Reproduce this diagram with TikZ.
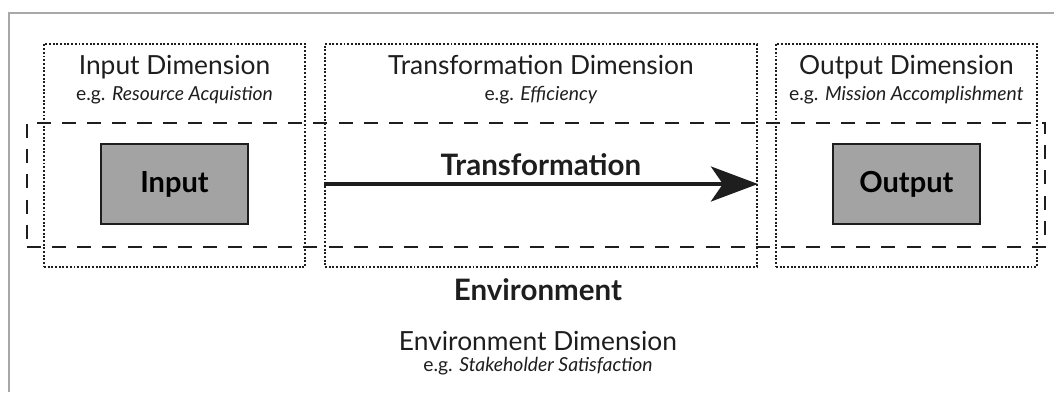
\documentclass[tikz,border=0pt]{standalone}
\usepackage{fontspec}
\setmainfont{Lato}
\usepackage{tikz}
\usetikzlibrary{arrows.meta,positioning,calc}
\definecolor{framegray}{HTML}{A8A8A8}
\definecolor{boxgray}{HTML}{A3A3A3}
\definecolor{inkdark}{HTML}{1E1E1E}
\tikzset{
  dimbox/.style={draw=inkdark, line width=1.1pt, dash pattern=on 1.1pt off 1pt, minimum height=4.46cm, inner sep=0pt},
  valuebox/.style={draw=inkdark, fill=boxgray, line width=1.1pt, minimum width=2.94cm, minimum height=1.6cm, font=\bfseries\fontsize{16.5}{19}\selectfont},
  envbox/.style={draw=inkdark, line width=1.2pt, dash pattern=on 8pt off 6.3pt, minimum width=20.36cm, minimum height=2.48cm, inner sep=0pt},
  dimtitle/.style={font=\fontsize{15}{18}\selectfont, inner sep=0pt, text=inkdark},
  dimnote/.style={font=\fontsize{11}{13}\selectfont, inner sep=0pt, text=inkdark},
  biglabel/.style={font=\bfseries\fontsize{16.8}{19}\selectfont, inner sep=0pt, text=inkdark},
  flow/.style={-{Stealth[length=9.4mm, width=7mm, inset=2.4mm]}, line width=2.4pt, draw=inkdark}
}

\begin{document}
\begin{tikzpicture}[node distance=3.6mm]
  \useasboundingbox (0,0) rectangle (21.08,7.84);
  \draw[framegray, line width=1.1pt] (0.18,0) |- (21.08,7.58);

  % the three dimensions
  \node[dimbox, minimum width=5.22cm] (idim) at (3.49,4.73) {};
  \node[dimbox, minimum width=8.64cm, right=of idim] (tdim) {};
  \node[dimbox, minimum width=5.22cm, right=3.4mm of tdim] (odim) {};

  \node[dimtitle, below=6.2mm of idim.north, anchor=base] (ititle) {Input Dimension};
  \node[dimnote, below=11.5mm of idim.north, anchor=base] (inote) {e.g. \textit{Resource Acquistion}};
  \node[dimtitle, below=6.2mm of tdim.north, anchor=base] (ttitle) {Transformation Dimension};
  \node[dimnote, below=11.5mm of tdim.north, anchor=base] (tnote) {e.g. \textit{Efficiency}};
  \node[dimtitle, below=6.2mm of odim.north, anchor=base] (otitle) {Output Dimension};
  \node[dimnote, below=11.5mm of odim.north, anchor=base] (onote) {e.g. \textit{Mission Accomplishment}};

  % environment band
  \node[envbox] (env) at (10.72,4.14) {};

  \node[valuebox] (inbox) at (3.49,4.16) {Input};
  \node[valuebox] (outbox) at (odim.center |- inbox) {Output};

  \coordinate (tstart) at (tdim.west |- inbox);
  \coordinate (tend) at (tdim.east |- inbox);
  \draw[flow] (tstart) -- (tend);
  \node[biglabel, anchor=base] (tlabel) at ($(tstart)!0.5!(tend)+(0,0.18)$) {Transformation};

  \node[biglabel, anchor=base] (envlabel) at (10.76,1.84) {Environment};
  \node[dimtitle, anchor=base] (etitle) at (10.76,0.84) {Environment Dimension};
  \node[dimnote, anchor=base] (enote) at (10.76,0.42) {e.g. \textit{Stakeholder Satisfaction}};
\end{tikzpicture}
\end{document}
